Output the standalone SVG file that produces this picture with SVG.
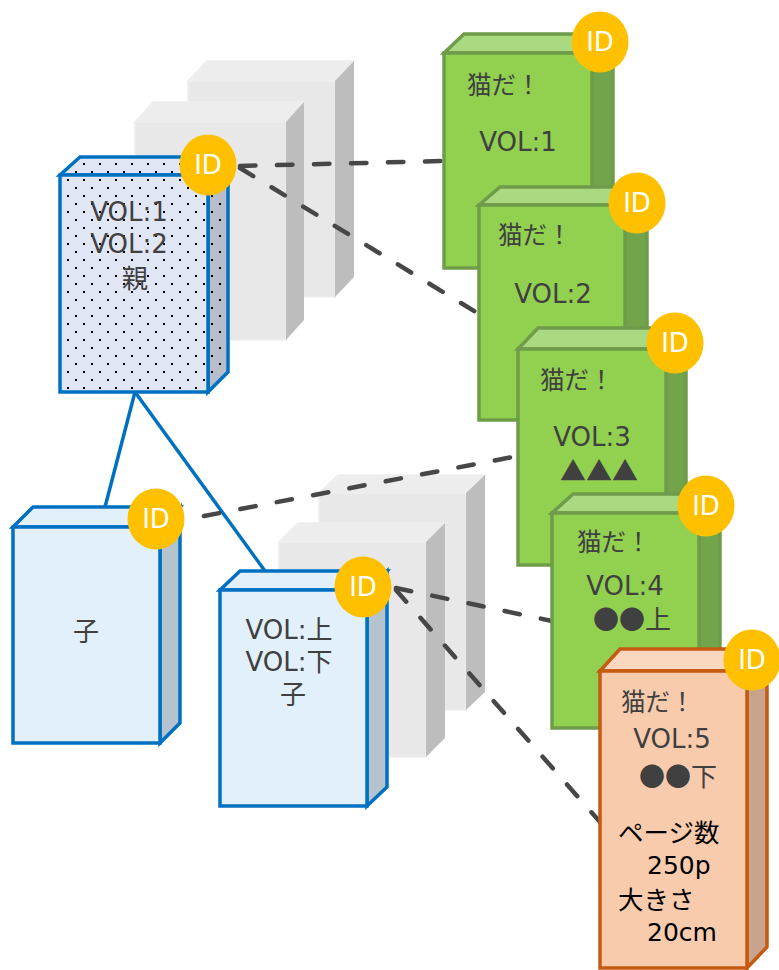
<svg xmlns="http://www.w3.org/2000/svg" width="779" height="970" viewBox="0 0 779 970">
<defs>
<pattern id="dots" width="16" height="16" patternUnits="userSpaceOnUse">
<rect width="16" height="16" fill="#e1e6f5"/>
<rect x="3" y="3" width="2" height="2" fill="#000"/>
<rect x="11" y="11" width="2" height="2" fill="#000"/>
</pattern>
<pattern id="dotsSide" width="16" height="16" patternUnits="userSpaceOnUse">
<rect width="16" height="16" fill="#b8bdcb"/>
<rect x="3" y="3" width="2" height="2" fill="#000"/>
<rect x="11" y="11" width="2" height="2" fill="#000"/>
</pattern>
</defs>
<style>
.gF{fill:#e8e8e8;stroke:#eeeeee;stroke-width:1.5}
.gT{fill:#ededed;stroke:#eeeeee;stroke-width:1.5}
.gS{fill:#bdbdbd}
.bF{fill:#e1f0fa;stroke:#0070c0;stroke-width:3.5;stroke-linejoin:miter}
.bS{fill:#b4c3cd;stroke:#0070c0;stroke-width:3.5}
.pF{fill:url(#dots);stroke:#0070c0;stroke-width:3.5}
.pS{fill:url(#dotsSide);stroke:#0070c0;stroke-width:3.5}
.grF{fill:#92d050;stroke:#6f9c4a;stroke-width:3.5}
.grT{fill:#a9da82;stroke:#6f9c4a;stroke-width:3.5}
.grS{fill:#72a44c;stroke:#6f9c4a;stroke-width:3.5}
.oF{fill:#f8cbad;stroke:#c55a11;stroke-width:3.5}
.oT{fill:#fad8c0;stroke:#c55a11;stroke-width:3.5}
.oS{fill:#c9a48c;stroke:#c55a11;stroke-width:3.5}
.id{fill:#ffc000}
.idt{fill:#ffffff;font-family:"DejaVu Sans","Noto Sans CJK JP",sans-serif;font-size:26px;text-anchor:middle}
.t{fill:#404040;font-family:"DejaVu Sans","Noto Sans CJK JP",sans-serif;font-size:26px}
.j{fill:#404040;font-family:"Noto Sans CJK JP",sans-serif;font-size:24.5px}
.s{fill:#404040;font-family:"Noto Sans CJK JP",sans-serif;font-size:26px}
.tb{fill:#000000;font-family:"DejaVu Sans","Noto Sans CJK JP",sans-serif;font-size:25px}
.jb{fill:#000000;font-family:"Noto Sans CJK JP",sans-serif;font-size:25.5px}
.m{text-anchor:middle}
.tree{stroke:#0070c0;stroke-width:3.5;fill:none}
.dash{stroke:#474747;stroke-width:4.5;fill:none;stroke-dasharray:15.5 21.5;stroke-linecap:round}
</style>

<g id="gray-stack-top">
<g id="gray-top-back">
<polygon class="gT" points="188,81 207,61 354,61 335,81"/>
<rect class="gF" x="188" y="81" width="147" height="216"/>
<polygon class="gS" points="335,81 354,61 354,277 335,297"/>
</g>
<g id="gray-top-front">
<polygon class="gT" points="135,122 153,102 304,102 286,122"/>
<rect class="gF" x="135" y="122" width="151" height="218"/>
<polygon class="gS" points="286,122 304,102 304,320 286,340"/>
</g>
</g>
<g id="gray-stack-bottom">
<g id="gray-bottom-back">
<polygon class="gT" points="319,493 338,475 485,475 466,493"/>
<rect class="gF" x="319" y="493" width="147" height="217"/>
<polygon class="gS" points="466,493 485,475 485,692 466,710"/>
</g>
<g id="gray-bottom-front">
<polygon class="gT" points="279,542 298,523 445,523 426,542"/>
<rect class="gF" x="279" y="542" width="147" height="215"/>
<polygon class="gS" points="426,542 445,523 445,738 426,757"/>
</g>
</g>

<g id="connectors">
<line class="tree" x1="135" y1="392" x2="105" y2="507"/>
<line class="tree" x1="135" y1="392" x2="265" y2="571"/>
<line class="dash" x1="240" y1="166" x2="444" y2="161"/>
<line class="dash" x1="240" y1="168" x2="479" y2="314"/>
<line class="dash" x1="204" y1="516" x2="518" y2="456"/>
<line class="dash" x1="396" y1="588" x2="552" y2="621"/>
<line class="dash" x1="396" y1="590" x2="600" y2="822"/>
</g>

<g id="parent">
<polygon class="pF" points="60,175 80,157 228,157 208,175"/>
<polygon class="pS" points="208,175 228,157 228,372 208,392"/>
<rect class="pF" x="60" y="175" width="148" height="217"/>
<ellipse class="id" cx="208" cy="165" rx="28.5" ry="30.5"/>
<text class="idt" x="208" y="174">ID</text>
<text class="t m" x="129" y="221">VOL:1</text>
<text class="t m" x="129" y="253">VOL:2</text>
<text class="s m" x="135" y="288">親</text>
</g>

<g id="child-left">
<polygon class="bF" points="13,527 33,507 180,507 160,527"/>
<polygon class="bS" points="160,527 180,507 180,723 160,743"/>
<rect class="bF" x="13" y="527" width="147" height="216"/>
<ellipse class="id" cx="156" cy="519" rx="28.5" ry="30.5"/>
<text class="idt" x="156" y="528">ID</text>
<text class="s m" x="86" y="641">子</text>
</g>

<g id="child-right">
<polygon class="bF" points="220,590 240,571 387,571 367,590"/>
<polygon class="bS" points="367,590 387,571 387,787 367,806"/>
<rect class="bF" x="220" y="590" width="147" height="216"/>
<ellipse class="id" cx="363" cy="587" rx="28.5" ry="30.5"/>
<text class="idt" x="363" y="596">ID</text>
<text class="t m" x="289" y="639">VOL:上</text>
<text class="t m" x="289" y="671">VOL:下</text>
<text class="s m" x="293" y="704">子</text>
</g>

<g id="cat-1">
<polygon class="grT" points="444,53 464,34 613,34 592,53"/>
<polygon class="grS" points="592,53 613,34 613,249 592,268"/>
<rect class="grF" x="444" y="53" width="148" height="215"/>
<ellipse class="id" cx="600" cy="42" rx="28.5" ry="30.5"/>
<text class="idt" x="600" y="51">ID</text>
<text class="j" x="467" y="94">猫だ！</text>
<text class="t m" x="518" y="151">VOL:1</text>
</g>

<g id="cat-2">
<polygon class="grT" points="479,205 500,187 647,187 625,205"/>
<polygon class="grS" points="625,205 647,187 647,402 625,420"/>
<rect class="grF" x="479" y="205" width="146" height="215"/>
<ellipse class="id" cx="637" cy="203" rx="28.5" ry="30.5"/>
<text class="idt" x="637" y="212">ID</text>
<text class="j" x="498" y="244">猫だ！</text>
<text class="t m" x="553" y="303">VOL:2</text>
</g>

<g id="cat-3">
<polygon class="grT" points="518,349 538,328 686,328 666,349"/>
<polygon class="grS" points="666,349 686,328 686,544 666,565"/>
<rect class="grF" x="518" y="349" width="148" height="216"/>
<ellipse class="id" cx="675" cy="343" rx="28.5" ry="30.5"/>
<text class="idt" x="675" y="352">ID</text>
<text class="j" x="540" y="389">猫だ！</text>
<text class="t m" x="592" y="446">VOL:3</text>
<text class="s m" x="599" y="481">▲▲▲</text>
</g>

<g id="cat-4">
<polygon class="grT" points="552,513 573,494 720,494 699,513"/>
<polygon class="grS" points="699,513 720,494 720,709 699,728"/>
<rect class="grF" x="552" y="513" width="147" height="215"/>
<ellipse class="id" cx="706" cy="506" rx="28.5" ry="30.5"/>
<text class="idt" x="706" y="515">ID</text>
<text class="j" x="577" y="551">猫だ！</text>
<text class="t m" x="625" y="595">VOL:4</text>
<text class="s m" x="632" y="629">●●上</text>
</g>

<g id="cat-5">
<polygon class="oT" points="600,671 620,649 767,649 747,671"/>
<polygon class="oS" points="747,671 767,649 767,947 747,968"/>
<rect class="oF" x="600" y="671" width="147" height="297"/>
<ellipse class="id" cx="752" cy="660" rx="28.5" ry="30.5"/>
<text class="idt" x="752" y="669">ID</text>
<text class="j" x="621" y="711">猫だ！</text>
<text class="t m" x="672" y="748">VOL:5</text>
<text class="s m" x="678" y="786">●●下</text>
<text class="jb" x="618" y="842">ページ数</text>
<text class="tb" x="647" y="874">250p</text>
<text class="jb" x="618" y="909">大きさ</text>
<text class="tb" x="647" y="941">20cm</text>
</g>
</svg>
